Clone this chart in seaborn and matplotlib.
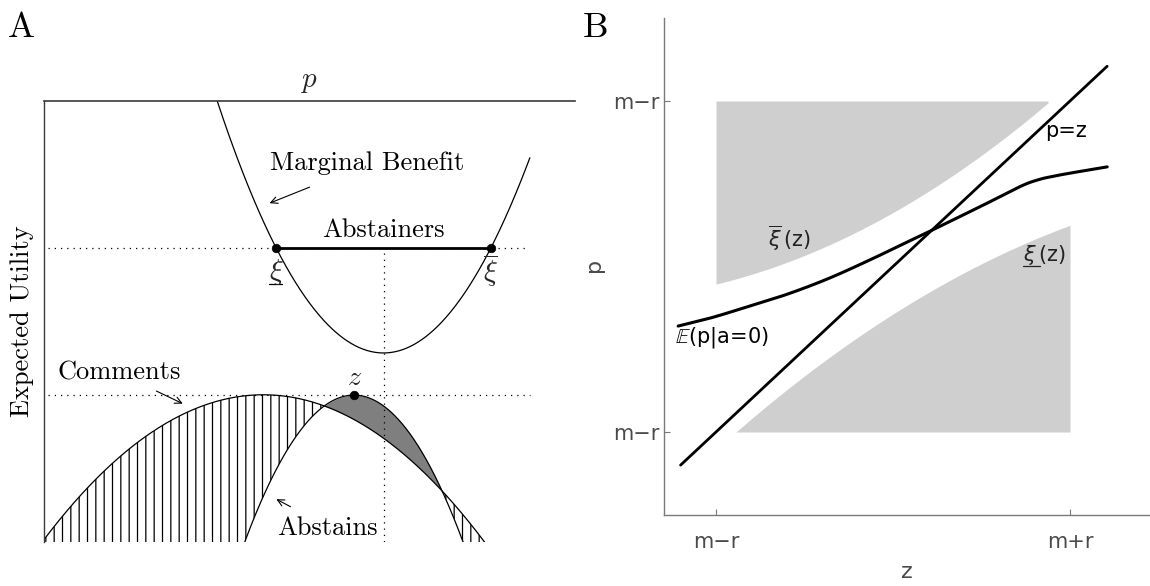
import numpy as np
import matplotlib
matplotlib.use("Agg")
import matplotlib.pyplot as plt
import seaborn as sns

# ---------------- Panel A: expected utility curves (x = position p, y = utility) -------------
mb_x = [0.326, 0.388, 0.437, 0.520, 0.640, 0.746, 0.841, 0.915]
mb_u = [1.000, 0.798, 0.667, 0.512, 0.429, 0.493, 0.667, 0.871]

com_x = [0.000, 0.105, 0.218, 0.412, 0.527, 0.633, 0.750, 0.831]
com_u = [0.005, 0.152, 0.261, 0.333, 0.308, 0.240, 0.120, -0.005]

abs_x = [0.378, 0.463, 0.527, 0.584, 0.640, 0.708, 0.750, 0.789]
abs_u = [0.000, 0.218, 0.308, 0.333, 0.308, 0.211, 0.116, 0.000]

xi_lo, xi_hi, xi_level = 0.437, 0.841, 0.667
z_pos, z_level = 0.584, 0.333
mb_min_x = 0.640

# ---------------- Panel B: thresholds as functions of z ----------------
tick_pos = [0, 1]
x_tick_labels = ["m\u2212r", "m+r"]
y_tick_labels = ["m\u2212r", "m\u2212r"]

diag_z = [-0.100, 1.105]
diag_p = [-0.100, 1.105]

e_z = [-0.107, -0.017, 0.076, 0.195, 0.314, 0.435, 0.548, 0.605, 0.754, 0.860, 0.910, 0.950, 1.000, 1.105]
e_p = [0.320, 0.344, 0.374, 0.414, 0.462, 0.520, 0.578, 0.607, 0.685, 0.742, 0.762, 0.772, 0.782, 0.801]

xi_up_z = [0.000, 0.218, 0.407, 0.548, 0.709, 0.831, 0.938]
xi_up_p = [0.441, 0.529, 0.616, 0.689, 0.792, 0.903, 1.000]

xi_lo_z = [0.056, 0.218, 0.407, 0.548, 0.709, 0.867, 1.000]
xi_lo_p = [0.000, 0.142, 0.290, 0.392, 0.483, 0.567, 0.625]


def catmull_rom(x, y, per_seg=24):
    """Smooth curve through the given points (uniform Catmull-Rom)."""
    pts = np.column_stack([x, y]).astype(float)
    p = np.vstack([2 * pts[0] - pts[1], pts, 2 * pts[-1] - pts[-2]])
    t = np.linspace(0, 1, per_seg, endpoint=False)[:, None]
    out = []
    for i in range(1, len(p) - 2):
        p0, p1, p2, p3 = p[i - 1], p[i], p[i + 1], p[i + 2]
        seg = 0.5 * ((2 * p1) + (-p0 + p2) * t
                     + (2 * p0 - 5 * p1 + 4 * p2 - p3) * t ** 2
                     + (-p0 + 3 * p1 - 3 * p2 + p3) * t ** 3)
        out.append(seg)
    out.append(pts[-1][None, :])
    out = np.vstack(out)
    return out[:, 0], out[:, 1]


def smooth_boundary(z, p, n=300):
    """Quadratic trend through the boundary points, pinned to their z range."""
    coef = np.polyfit(z, p, 2)
    zz = np.linspace(min(z), max(z), n)
    return zz, np.polyval(coef, zz)


sns.set_theme(style="white")
plt.rcParams["font.family"] = ["DejaVu Sans"]
plt.rcParams["hatch.linewidth"] = 0.9

W, H = 1150, 586
fig = plt.figure(figsize=(W / 100, H / 100), dpi=100)
fig.patch.set_facecolor("white")

serif = dict(family="cmr10", color="black")

# ======================= Panel A =======================
axA = fig.add_axes([44 / W, (H - 542) / H, (575 - 44) / W, (542 - 101) / H])
axA.set_facecolor("white")

mb_fit = np.polyfit(mb_x, mb_u, 2)
com_fit = np.polyfit(com_x, com_u, 2)
abs_fit = np.polyfit(abs_x, abs_u, 2)

xm = np.linspace(min(mb_x), max(mb_x), 400)
sns.lineplot(x=xm, y=np.polyval(mb_fit, xm), color="black", lw=0.9, ax=axA, sort=False, estimator=None)

xg = np.linspace(0.0, 0.85, 1500)
cg = np.polyval(com_fit, xg)
ag = np.polyval(abs_fit, xg)
lower = np.maximum(ag, 0.0)

# hatched: commenting beats abstaining
axA.fill_between(xg, lower, cg, where=(cg > lower), interpolate=True,
                 facecolor="none", edgecolor="black", hatch="||", linewidth=0)
# shaded: abstaining beats commenting
axA.fill_between(xg, cg, ag, where=(ag > cg), interpolate=True,
                 color="#7f7f7f", linewidth=0)

xc = np.linspace(min(com_x), 0.84, 600)
sns.lineplot(x=xc, y=np.polyval(com_fit, xc), color="black", lw=0.9, ax=axA, sort=False, estimator=None)
xa = np.linspace(0.37, 0.80, 600)
sns.lineplot(x=xa, y=np.polyval(abs_fit, xa), color="black", lw=0.9, ax=axA, sort=False, estimator=None)

# dotted guides
dot = dict(color="black", lw=0.9, linestyle=(0, (1, 4)))
axA.plot([0.008, 0.911], [xi_level, xi_level], **dot)
axA.plot([0.008, 0.915], [z_level, z_level], **dot)
axA.plot([mb_min_x, mb_min_x], [0.655, 0.0], **dot)

# abstainers interval
sns.lineplot(x=[xi_lo, xi_hi], y=[xi_level, xi_level], color="black", lw=2.0, ax=axA)
sns.scatterplot(x=[xi_lo, xi_hi, z_pos], y=[xi_level, xi_level, z_level],
                color="black", s=38, edgecolor="black", ax=axA, zorder=5)

axA.set_xlim(0, 1)
axA.set_ylim(0, 1)
axA.set_xticks([])
axA.set_yticks([])
for s in ["right", "bottom"]:
    axA.spines[s].set_visible(False)
axA.spines["top"].set_color("#3a3a3a")
axA.spines["top"].set_linewidth(1.2)
axA.spines["left"].set_color("#3a3a3a")
axA.spines["left"].set_linewidth(1.0)

axA.set_ylabel("Expected Utility", fontsize=19, **serif)
axA.yaxis.set_label_coords(-22 / 531, 0.501)
axA.yaxis.label.set_va("center")

axA.text(0.499, 1.045, r"$p$", math_fontfamily="cm", fontsize=21, ha="center", va="center")
axA.text(0.608, 0.859, "Marginal Benefit", fontsize=19, ha="center", va="center", **serif)
axA.annotate("", xy=(0.420, 0.766), xytext=(0.505, 0.807),
             arrowprops=dict(arrowstyle="->", lw=0.8, color="black"))
axA.text(0.640, 0.707, "Abstainers", fontsize=19, ha="center", va="center", **serif)
axA.text(0.141, 0.385, "Comments", fontsize=19, ha="center", va="center", **serif)
axA.annotate("", xy=(0.266, 0.311), xytext=(0.207, 0.345),
             arrowprops=dict(arrowstyle="->", lw=0.8, color="black"))
axA.text(0.533, 0.032, "Abstains", fontsize=19, ha="center", va="center", **serif)
axA.annotate("", xy=(0.433, 0.100), xytext=(0.469, 0.077),
             arrowprops=dict(arrowstyle="->", lw=0.8, color="black"))
axA.text(z_pos, 0.374, r"$z$", math_fontfamily="cm", fontsize=20, ha="center", va="center")

axA.text(xi_lo, 0.612, r"$\xi$", math_fontfamily="cm", fontsize=21, ha="center", va="center")
axA.plot([xi_lo - 0.014, xi_lo + 0.012], [0.585, 0.585], color="black", lw=0.9)
axA.text(xi_hi, 0.616, r"$\overline{\xi}$", math_fontfamily="cm", fontsize=21, ha="center", va="center")

fig.text(21 / W, 1 - 28 / H, "A", fontsize=26, ha="center", va="center", **serif)

# ======================= Panel B =======================
axB = fig.add_axes([664 / W, (H - 515) / H, (W - 664) / W, (515 - 18) / H])
axB.set_facecolor("white")

gray = "#cfcfcf"
uz, up = smooth_boundary(xi_up_z, xi_up_p)
axB.fill_between(uz, np.minimum(up, 1.0), 1.0, color=gray, linewidth=0)
lz, lp = smooth_boundary(xi_lo_z, xi_lo_p)
axB.fill_between(lz, 0.0, np.maximum(lp, 0.0), color=gray, linewidth=0)

sns.lineplot(x=diag_z, y=diag_p, color="black", lw=2.0, ax=axB)
ez, ep = catmull_rom(e_z, e_p)
sns.lineplot(x=ez, y=ep, color="black", lw=2.2, ax=axB, sort=False, estimator=None)

axB.set_xlim((664 - 716) / 354, (W - 716) / 354)
axB.set_ylim((432 - 515) / 331, (432 - 18) / 331)
axB.set_xticks(tick_pos, x_tick_labels)
axB.set_yticks(tick_pos, y_tick_labels)
axB.tick_params(axis="both", direction="in", length=4, width=0.8, color="#7a7a7a",
                labelcolor="#4a4a4a", labelsize=15, bottom=True, left=True)
axB.tick_params(axis="x", pad=12)
axB.tick_params(axis="y", pad=3)
for s in ["top", "right"]:
    axB.spines[s].set_visible(False)
for s in ["left", "bottom"]:
    axB.spines[s].set_color("#7a7a7a")
    axB.spines[s].set_linewidth(1.0)

axB.set_xlabel("z", fontsize=16, color="#4a4a4a")
axB.xaxis.set_label_coords(0.5, -(572 - 515) / 497)
axB.xaxis.label.set_va("center")
axB.set_ylabel("p", fontsize=16, color="#4a4a4a")
axB.yaxis.set_label_coords(-(664 - 594) / 486, (515 - 265) / 497)
axB.yaxis.label.set_va("center")

axB.text(0.929, 0.909, "p=z", fontsize=15, ha="left", va="center", color="black")
axB.text(-0.116, 0.284, r"$\mathbb{E}$(p|a=0)", math_fontfamily="dejavusans",
         fontsize=15, ha="left", va="center", color="black")
axB.text(0.147, 0.585, r"$\overline{\xi}\,$(z)", math_fontfamily="dejavusans",
         fontsize=15, ha="left", va="center", color="#222222")
axB.text(0.867, 0.535, r"$\xi\,$(z)", math_fontfamily="dejavusans",
         fontsize=15, ha="left", va="center", color="#222222")
axB.plot([0.867, 0.915], [0.503, 0.503], color="#222222", lw=0.9)

fig.text(596 / W, 1 - 28 / H, "B", fontsize=26, ha="center", va="center", **serif)

fig.savefig("out.png", dpi=100)
